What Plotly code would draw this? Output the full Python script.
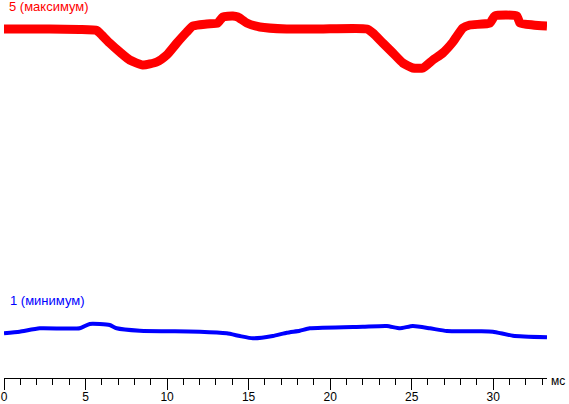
import plotly.graph_objects as go

# time, ms
red_t = [0, 0.96, 2.80, 4.64, 5.69, 5.87, 6.48, 7.10, 7.71, 8.51, 9.37, 9.98, 10.6, 11.21,
         11.58, 12.44, 13.11, 13.42, 14.03, 14.34, 14.89, 15.69, 17.34, 19.37, 22.25, 22.62,
         23.23, 23.85, 24.46, 25.07, 25.69, 26.30, 26.91, 27.53, 28.14, 28.57, 29.80, 30.1,
         31.45, 31.64, 32.44, 33.3]
# brightness, arbitrary units
red_v = [349, 349, 349, 348.5, 347.5, 345, 335, 326, 318, 313, 316, 323, 335, 346,
         352, 354, 355, 361, 362, 361, 355, 351, 349, 349, 349, 345,
         335, 325, 315, 310, 310, 318, 325, 336, 350, 353, 355, 362,
         362, 355, 353, 352]

blue_t = [0, 0.96, 2.19, 4.64, 5.26, 6.48, 6.91, 8.33, 12.01, 13.66, 14.46, 15.26, 16.48,
          17.34, 18.14, 18.75, 22.0, 23.48, 24.28, 25.07, 26.12, 27.16, 29.18, 29.98, 31.21, 33.3]
blue_v = [44.7, 46.3, 49.7, 49.7, 54, 53, 49.7, 47.3, 46.3, 44.7, 42, 39.7, 42,
          45.3, 47.3, 49.7, 51.3, 52, 49.7, 52, 49.7, 47, 46.7, 46.3, 42.3, 40.7]

red_label = "5 (максимум)"
blue_label = "1 (минимум)"
x_unit = "мс"
x_ticks = [0, 5, 10, 15, 20, 25, 30]

fig = go.Figure()
fig.add_trace(go.Scatter(x=red_t, y=red_v, mode="lines",
                         line=dict(color="#FF0000", width=9, shape="spline", smoothing=0.5),
                         hoverinfo="skip"))
fig.add_trace(go.Scatter(x=blue_t, y=blue_v, mode="lines",
                         line=dict(color="#0000FF", width=4, shape="spline", smoothing=0.5),
                         hoverinfo="skip"))

font = dict(family="Liberation Sans, Arial, sans-serif", size=12)
fig.update_layout(
    width=569, height=404,
    margin=dict(l=4, r=22, t=0, b=26),
    paper_bgcolor="white", plot_bgcolor="white",
    showlegend=False,
    font=font,
    xaxis=dict(range=[0, 33.3], showgrid=False, zeroline=False,
               showline=True, linecolor="black", linewidth=1,
               ticks="outside", ticklen=11, tickcolor="black", tickwidth=1,
               tickvals=x_ticks, automargin=False, ticklabelstandoff=-3,
               tickfont=dict(color="black", size=12, family=font["family"]),
               minor=dict(ticks="outside", ticklen=6, dtick=1, tickcolor="black", showgrid=False)),
    yaxis=dict(range=[0, 378], visible=False, fixedrange=True),
    annotations=[
        dict(text=red_label, x=0.0055, y=0.983, xref="paper", yref="paper",
             xanchor="left", yanchor="middle", showarrow=False,
             font=dict(color="#FF0000", size=13, family=font["family"])),
        dict(text=blue_label, x=0.0075, y=0.204, xref="paper", yref="paper",
             xanchor="left", yanchor="middle", showarrow=False,
             font=dict(color="#0000FF", size=13, family=font["family"])),
        dict(text=x_unit, x=1.020, y=-0.008, xref="paper", yref="paper",
             xanchor="center", yanchor="middle", showarrow=False,
             font=dict(color="black", size=12, family=font["family"])),
    ],
)
fig.write_html("out.html", config={"displayModeBar": False},
               post_script="document.body.style.margin='0px';document.body.style.overflow='hidden';")
